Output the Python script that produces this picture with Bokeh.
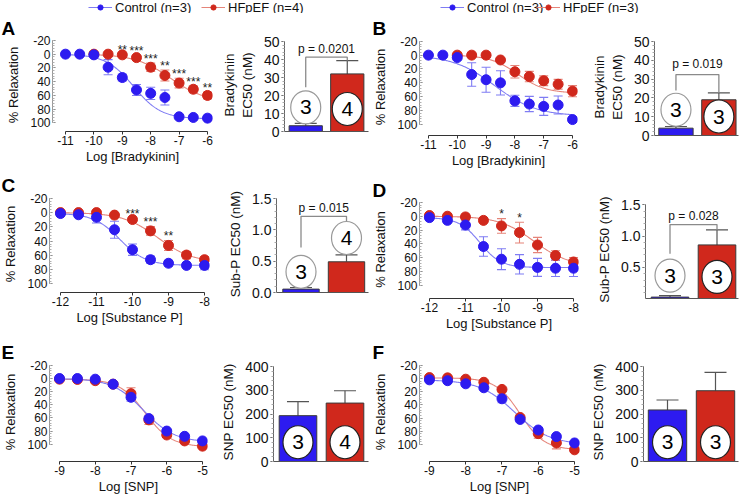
import numpy as np
from bokeh.plotting import figure
from bokeh.layouts import row, column
from bokeh.models import (Range1d, FixedTicker, Legend, LegendItem, Title,
                          Whisker, TeeHead, ColumnDataSource)
from bokeh.embed import file_html
from bokeh.resources import INLINE
from bokeh.core.properties import value

FONT = "Liberation Sans"
BLUE = "#2D1BF0"
RED = "#D0281C"
BLUE_L = "#7F7CF3"
RED_L = "#E58479"

# ---------------- data ----------------
x_brady = [-11, -10.5, -10, -9.5, -9, -8.5, -8, -7.5, -7, -6.5, -6]
x_brady_hf = [-10, -9.5, -9, -8.5, -8, -7.5, -7, -6.5, -6]
x_subp = [-12, -11.5, -11, -10.5, -10, -9.5, -9, -8.5, -8]
x_snp = [-9, -8.5, -8, -7.5, -7, -6.5, -6, -5.5, -5]

brady_ticks = [-11, -10, -9, -8, -7, -6]
brady_tick_labels = ["-11", "-10", "-9", "-8", "-7", "-6"]
subp_ticks = [-12, -11, -10, -9, -8]
subp_tick_labels = ["-12", "-11", "-10", "-9", "-8"]
snp_ticks = [-9, -8, -7, -6, -5]
snp_tick_labels = ["-9", "-8", "-7", "-6", "-5"]
relax_ticks = [-20, 0, 20, 40, 60, 80, 100]
relax_tick_labels = ["-20", "0", "20", "40", "60", "80", "100"]

a_ctrl = [0, 0, 1, 19, 34, 52, 57, 63, 91, 92, 93]
a_ctrl_err = [1, 1, 2, 11, 5, 8, 9, 11, 2, 2, 2]
a_hf = [0, 0, 1, 5, 19, 31, 42, 51, 60]
a_hf_err = [1, 1, 1, 3, 6, 8, 7, 5, 5]
a_stars = ["", "", "**", "***", "***", "**", "***", "***", "**"]
a_fit_ctrl = [0, 94, -8.6, 0.9]
a_fit_hf = [0, 70, -7.3, 0.7]
a_bar = [3.2, 32]
a_bar_err = [1.3, 7.4]
a_n = ["3", "4"]
a_circle_y = [13.4, 12.5]
a_p = "p = 0.0201"

b_ctrl = [0, 0, 3.5, 28, 35.5, 40, 66, 70.6, 74, 72, 93]
b_ctrl_err = [1, 1, 2, 17, 18, 17.5, 8, 11, 13, 13, 2]
b_hf = [0, 0, 0, 7, 24, 31, 37, 42, 52]
b_hf_err = [1, 1, 1, 3, 9, 7.5, 7, 7, 8]
b_stars = [""] * 9
b_fit_ctrl = [0, 88, -8.7, 0.6]
b_fit_hf = [0, 55, -7.9, 0.9]
b_bar = [3.9, 19]
b_bar_err = [0.9, 3.7]
b_n = ["3", "3"]
b_circle_y = [13.7, 10.1]
b_p = "p = 0.019"

c_ctrl = [1.3, 3, 6.6, 24, 52, 66, 71, 74, 74]
c_ctrl_err = [2, 2, 8, 12, 8, 5, 4, 2, 6]
c_hf = [0, 0, 0, 3.5, 9.7, 25.6, 46, 59.5, 66]
c_hf_err = [1, 1, 1, 2, 2, 6, 7, 5, 4]
c_stars = ["", "", "", "", "***", "***", "**", "", ""]
c_fit_ctrl = [1, 74, -10.35, 1.2]
c_fit_hf = [0, 70, -9.3, 0.9]
c_bar = [0.054, 0.49]
c_bar_err = [0.026, 0.11]
c_n = ["3", "4"]
c_circle_y = [0.33, 0.87]
c_p = "p = 0.015"

d_ctrl = [2, 6, 12.7, 43.7, 62, 69.4, 73.8, 75, 75]
d_ctrl_err = [2, 2, 7, 14, 15, 14, 13, 12, 12]
d_hf = [-1, 0, 1, 6, 14, 23.6, 41.5, 56.8, 66]
d_hf_err = [1, 1, 1, 2, 10.5, 15, 11, 7, 6.5]
d_stars = ["", "", "", "", "*", "*", "", "", ""]
d_fit_ctrl = [2, 74, -10.6, 1.5]
d_fit_hf = [0, 72, -9.1, 0.9]
d_bar = [0.027, 0.86]
d_bar_err = [0.023, 0.24]
d_n = ["3", "3"]
d_circle_y = [0.37, 0.35]
d_p = "p = 0.028"

e_ctrl = [0, 0, 1, 8.6, 28.6, 61, 80, 88, 95]
e_ctrl_err = [1, 1, 1, 2, 6, 3, 2, 2, 2]
e_hf = [1, 1.4, 3.3, 8.6, 23, 63, 86, 95, 103]
e_hf_err = [1, 1, 1, 2, 9, 7, 2, 2, 2]
e_stars = [""] * 9
e_fit_ctrl = [0, 97, -6.65, 1.0]
e_fit_hf = [1, 104, -6.6, 1.2]
e_bar = [193, 246]
e_bar_err = [59, 52]
e_n = ["3", "4"]
e_circle_y = [81, 81]

f_ctrl = [2, 3.3, 8, 14, 30.7, 62, 78, 88, 97.6]
f_ctrl_err = [1, 1, 1, 2, 6, 2, 2, 2, 2]
f_hf = [-1.4, -1, 1, 5.7, 16.5, 59, 83.5, 97.6, 108]
f_hf_err = [1, 1, 1, 1, 2, 2, 7, 9, 1]
f_stars = [""] * 9
f_fit_ctrl = [2, 100, -6.65, 0.9]
f_fit_hf = [-1, 108, -6.5, 1.3]
f_bar = [217, 298]
f_bar_err = [42, 77]
f_n = ["3", "3"]
f_circle_y = [81, 81]

brady_bar_ticks = [0, 10, 20, 30, 40, 50]
brady_bar_labels = ["0", "10", "20", "30", "40", "50"]
subp_bar_ticks = [0, 0.5, 1.0, 1.5]
subp_bar_labels = ["0.0", "0.5", "1.0", "1.5"]
snp_bar_ticks = [0, 100, 200, 300, 400]
snp_bar_labels = ["0", "100", "200", "300", "400"]


def lin(v0, p0, v1, p1, pa, pb):
    k = (v1 - v0) / (p1 - p0)
    return v0 + (pa - p0) * k, v0 + (pb - p0) * k


def sig(x, top, bottom, logec50, hill):
    return top + (bottom - top) / (1.0 + 10.0 ** (hill * (logec50 - x)))


def down(v):
    # relaxation grows downward: the axis is drawn with values increasing towards the bottom
    return [-a for a in v]


def make_fig(cx, cy, w, h, frame, xref, yref):
    fl, ft, fr, fb = frame
    L = round(fl - cx)
    R = round(fr - cx)
    T = round(ft - cy)
    B = round(fb - cy)
    x0, x1 = lin(xref[0], xref[1] - cx, xref[2], xref[3] - cx, L, R)
    y0, y1 = lin(yref[0], yref[1] - cy, yref[2], yref[3] - cy, B, T)
    p = figure(width=w, height=h, x_range=Range1d(x0, x1), y_range=Range1d(y0, y1),
               title=None,
               min_border_left=L, min_border_right=w - R, min_border_top=T,
               min_border_bottom=h - B, output_backend="svg", toolbar_location=None)
    p.outline_line_color = None
    p.grid.visible = False
    p.styles = {"flex-shrink": "0"}
    return p, (L, T, R, B)


def style_axis(ax, tick_size, label_size):
    ax.major_label_text_font = FONT
    ax.major_label_text_font_size = tick_size
    ax.major_label_text_color = "#111111"
    ax.axis_label_text_font = FONT
    ax.axis_label_text_font_size = label_size
    ax.axis_label_text_font_style = "normal"
    ax.axis_label_text_color = "#111111"


def add_letter(p, cx, box, letter, ref_left):
    L, T, R, B = box
    off = max(ref_left - cx, 1) - L
    p.add_layout(Title(text=letter, align="left", offset=off, standoff=0,
                       vertical_align="bottom", text_font=FONT, text_font_size="19px",
                       text_font_style="bold", text_color="#000000"), "above")


def line_panel(cx, cy, w, h, frame, xref, yref, xs_c, yc, ec, xs_h, yh, eh,
               fit_c, fit_h, stars, xticks, xtick_labels, xlabel, letter, letter_left):
    yref_d = (-yref[0], yref[1], -yref[2], yref[3])
    p, box = make_fig(cx, cy, w, h, frame, xref, yref_d)
    for xs, fit, col in ((xs_h, fit_h, RED_L), (xs_c, fit_c, BLUE_L)):
        gx = np.linspace(min(xs), max(xs), 200)
        p.line(gx, -sig(gx, *fit), line_color=col, line_width=1.1)
    for xs, ys, es, col in ((xs_h, yh, eh, RED_L), (xs_c, yc, ec, BLUE_L)):
        src = ColumnDataSource(dict(x=xs, lo=down([y - e for y, e in zip(ys, es)]),
                                    hi=down([y + e for y, e in zip(ys, es)])))
        p.add_layout(Whisker(source=src, base="x", upper="hi", lower="lo", dimension="height",
                             line_color=col, line_width=1.1,
                             upper_head=TeeHead(size=9, line_color=col, line_width=1.1),
                             lower_head=TeeHead(size=9, line_color=col, line_width=1.1)))
    p.scatter(xs_h, down(yh), size=10, fill_color=RED, line_color=RED)
    p.scatter(xs_c, down(yc), size=10, fill_color=BLUE, line_color=BLUE)
    sx, sy, st = [], [], []
    for x_, y_, e_, s_ in zip(xs_h, yh, eh, stars):
        if s_:
            sx.append(x_)
            sy.append(y_ - e_ - 6)
            st.append(s_)
    if st:
        p.text(sx, down(sy), text=st, text_font=value(FONT), text_font_size="12px",
               text_align="center", text_baseline="middle", text_color="#222222")
    xa = p.xaxis[0]
    xa.ticker = FixedTicker(ticks=xticks)
    xa.bounds = (xticks[0], xticks[-1])
    xa.major_label_overrides = {t: s for t, s in zip(xticks, xtick_labels)}
    xa.axis_label = xlabel
    xa.axis_line_color = "#333333"
    xa.major_tick_line_color = "#333333"
    xa.major_tick_out = 3
    xa.major_tick_in = 0
    xa.minor_tick_line_color = None
    xa.major_label_standoff = 1
    xa.axis_label_standoff = 1
    style_axis(xa, "12px", "13px")
    ya = p.yaxis[0]
    yt = down(relax_ticks)
    ya.ticker = FixedTicker(ticks=yt, minor_ticks=down(list(range(-20, 101, 4))))
    ya.bounds = (min(yt), max(yt))
    ya.major_label_overrides = {t: s for t, s in zip(yt, relax_tick_labels)}
    ya.axis_label = "% Relaxation"
    ya.axis_line_color = "#999999"
    ya.major_tick_line_color = "#777777"
    ya.major_tick_out = 0
    ya.major_tick_in = 3
    ya.minor_tick_line_color = "#b0b0b0"
    ya.minor_tick_out = 0
    ya.minor_tick_in = 2
    ya.major_label_standoff = 2
    ya.axis_label_standoff = 6
    style_axis(ya, "12px", "13px")
    add_letter(p, cx, box, letter, letter_left)
    return p


def bar_panel(cx, cy, w, h, frame, xref, yref, means, errs, ns, circ_y, ptext, bracket,
              yticks, ytick_labels, minor, ylabel):
    p, box = make_fig(cx, cy, w, h, frame, xref, yref)
    xs = [0, 1]
    src = ColumnDataSource(dict(x=xs, top=means, hi=[m + e for m, e in zip(means, errs)],
                                color=[BLUE, RED]))
    p.add_layout(Whisker(source=src, base="x", upper="hi", lower="top", dimension="height",
                         line_color="#555555", line_width=1.2,
                         upper_head=TeeHead(size=22, line_color="#555555", line_width=1.2),
                         lower_head=None))
    p.vbar(x="x", top="top", bottom=0, width=0.8, fill_color="color", line_color="#3a3a3a",
           line_width=1, source=src)
    if ptext:
        by, ly, leg0, leg1 = bracket
        p.line([0, 0, 1, 1], [leg0, by, by, leg1], line_color="#8a8a8a", line_width=1.3)
        p.text([0.5], [ly], text=[ptext], text_font=value(FONT), text_font_size="12px",
               text_align="center", text_baseline="middle", text_color="#111111")
    outline = ["#999999" if cy_ > m else "#222222" for cy_, m in zip(circ_y, means)]
    p.ellipse(x=xs, y=circ_y, width=30, height=33, width_units="screen",
              height_units="screen", fill_color="white", line_color=outline, line_width=1.2)
    p.text(xs, circ_y, text=ns, text_font=value(FONT), text_font_size="21px",
           text_align="center", text_baseline="middle", text_color="#000000")
    ya = p.yaxis[0]
    ya.ticker = FixedTicker(ticks=yticks, minor_ticks=minor)
    ya.bounds = (yticks[0], yticks[-1])
    ya.major_label_overrides = {t: s for t, s in zip(yticks, ytick_labels)}
    ya.axis_label = ylabel
    ya.axis_line_color = "#666666"
    ya.major_tick_line_color = "#444444"
    ya.major_tick_out = 3
    ya.major_tick_in = 0
    ya.minor_tick_line_color = "#aaaaaa"
    ya.minor_tick_out = 2
    ya.minor_tick_in = 0
    ya.major_label_standoff = 2
    ya.axis_label_standoff = 6
    style_axis(ya, "14px", "13.5px")
    xa = p.xaxis[0]
    xa.ticker = FixedTicker(ticks=[])
    xa.axis_line_color = "#555555"
    xa.major_tick_line_color = None
    xa.minor_tick_line_color = None
    return p


def legend_strip(w, h, cx, entries):
    p = figure(width=w, height=h, x_range=Range1d(0, w), y_range=Range1d(0, h),
               title=None, min_border=0, x_axis_location=None, y_axis_location=None,
               output_backend="svg", toolbar_location=None)
    p.outline_line_color = None
    p.grid.visible = False
    p.styles = {"flex-shrink": "0"}
    for ref_left, label, light, dark in entries:
        rl = p.line([-1000, -999], [-1000, -1000], line_color=light, line_width=1.2)
        rs = p.scatter([-1000], [-1000], size=10, fill_color=dark, line_color=dark)
        lg = Legend(items=[LegendItem(label=label, renderers=[rl, rs])],
                    location="left", padding=0, margin=int(round(ref_left - cx)),
                    spacing=0, glyph_width=24, glyph_height=13, label_height=13,
                    label_standoff=3, label_text_font=FONT, label_text_font_size="13px",
                    label_text_color="#111111", background_fill_alpha=0,
                    border_line_color=None)
        p.add_layout(lg)
    return p


TOP = 13
legL = legend_strip(370, TOP, 0, [(88, "Control (n=3)", BLUE_L, BLUE),
                                  (201, "HFpEF (n=4)", RED_L, RED)])
legR = legend_strip(370, TOP, 370, [(440, "Control (n=3)", BLUE_L, BLUE),
                                    (536, "HFpEF (n=3)", RED_L, RED)])

pA = line_panel(0, TOP, 218, 167 - TOP, (52, 35, 212, 133), (-11, 65, -6, 207), (-20, 37, 100, 124),
                x_brady, a_ctrl, a_ctrl_err, x_brady_hf, a_hf, a_hf_err, a_fit_ctrl, a_fit_hf,
                a_stars, brady_ticks, brady_tick_labels, "Log [Bradykinin]", "A", 1)
bA = bar_panel(218, TOP, 152, 167 - TOP, (277, 38, 368, 131), (0, 300, 1, 345), (0, 131, 50, 41),
               a_bar, a_bar_err, a_n, a_circle_y, a_p, (41.3, 46, 24.6, 39.4),
               brady_bar_ticks, brady_bar_labels, list(range(0, 51, 2)), "Bradykinin\nEC50 (nM)")
pC = line_panel(0, 167, 218, 164, (49, 194, 209, 296), (-12, 60, -8, 204), (-20, 197, 100, 287),
                x_subp, c_ctrl, c_ctrl_err, x_subp, c_hf, c_hf_err, c_fit_ctrl, c_fit_hf,
                c_stars, subp_ticks, subp_tick_labels, "Log [Substance P]", "C", 1)
bC = bar_panel(218, 167, 152, 164, (276, 195, 368, 292), (0, 300.5, 1, 346), (0, 292, 1.5, 198),
               c_bar, c_bar_err, c_n, c_circle_y, c_p, (1.216, 1.35, 0.72, 1.12),
               subp_bar_ticks, subp_bar_labels, [i / 10 for i in range(16)], "Sub-P EC50 (nM)")
pE = line_panel(0, 331, 218, 165, (49, 358, 207, 461), (-9, 59, -5, 202), (-20, 361, 100, 443),
                x_snp, e_ctrl, e_ctrl_err, x_snp, e_hf, e_hf_err, e_fit_ctrl, e_fit_hf,
                e_stars, snp_ticks, snp_tick_labels, "Log [SNP]", "E", 1)
bE = bar_panel(218, 331, 152, 165, (271, 362, 368, 461), (0, 296, 1, 344), (0, 461, 400, 366),
               e_bar, e_bar_err, e_n, e_circle_y, None, None,
               snp_bar_ticks, snp_bar_labels, list(range(0, 401, 20)), "SNP EC50 (nM)")

pB = line_panel(370, TOP, 218, 174 - TOP, (418, 35, 577, 140), (-11, 427, -6, 572), (-20, 38, 100, 128),
                x_brady, b_ctrl, b_ctrl_err, x_brady_hf, b_hf, b_hf_err, b_fit_ctrl, b_fit_hf,
                b_stars, brady_ticks, brady_tick_labels, "Log [Bradykinin]", "B", 366)
bB = bar_panel(588, TOP, 152, 174 - TOP, (646, 38, 738, 135), (0, 669.5, 1, 716.5), (0, 135, 50, 41),
               b_bar, b_bar_err, b_n, b_circle_y, b_p, (32.4, 37.8, 24, 22.7),
               brady_bar_ticks, brady_bar_labels, list(range(0, 51, 2)), "Bradykinin\nEC50 (nM)")
pD = line_panel(370, 174, 218, 161, (418, 197, 578, 303), (-12, 428, -8, 573), (-20, 199, 100, 289),
                x_subp, d_ctrl, d_ctrl_err, x_subp, d_hf, d_hf_err, d_fit_ctrl, d_fit_hf,
                d_stars, subp_ticks, subp_tick_labels, "Log [Substance P]", "D", 366)
bD = bar_panel(588, 174, 152, 161, (645, 200, 738, 298.3), (0, 669.5, 1, 716.5),
               (0, 298.3, 1.5, 204.3), d_bar, d_bar_err, d_n, d_circle_y, d_p,
               (1.185, 1.317, 0.72, 1.09),
               subp_bar_ticks, subp_bar_labels, [i / 10 for i in range(16)], "Sub-P EC50 (nM)")
pF = line_panel(370, 335, 218, 161, (418, 358, 579, 463), (-9, 428, -5, 574), (-20, 361, 100, 445),
                x_snp, f_ctrl, f_ctrl_err, x_snp, f_hf, f_hf_err, f_fit_ctrl, f_fit_hf,
                f_stars, snp_ticks, snp_tick_labels, "Log [SNP]", "F", 366)
bF = bar_panel(588, 335, 152, 161, (643, 362, 738, 461), (0, 667, 1, 715), (0, 461, 400, 366),
               f_bar, f_bar_err, f_n, f_circle_y, None, None,
               snp_bar_ticks, snp_bar_labels, list(range(0, 401, 20)), "SNP EC50 (nM)")

left = column(legL, row(pA, bA), row(pC, bC), row(pE, bE), width=370, height=496)
right = column(legR, row(pB, bB), row(pD, bD), row(pF, bF), width=370, height=496)
layout = row(left, right, width=740, height=496)

open("out.html", "w").write(file_html(layout, INLINE, title="Relaxation"))
